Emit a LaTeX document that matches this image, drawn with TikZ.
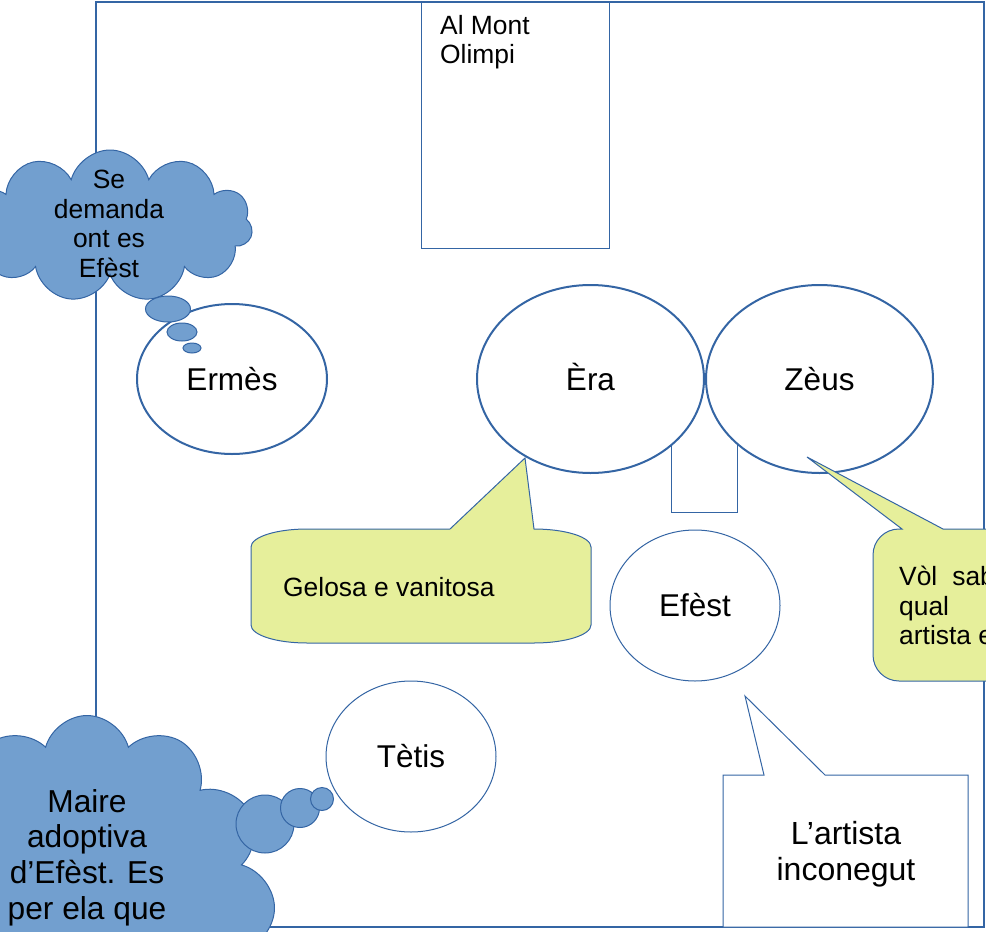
\documentclass[tikz,border=0pt]{standalone}
\usepackage{fontspec}
\setmainfont{Liberation Sans}
\usetikzlibrary{positioning}
\usetikzlibrary{shapes.geometric}
\usetikzlibrary{shapes.symbols}
\definecolor{lineblue}{HTML}{3465A4}
\definecolor{cloudblue}{HTML}{729FCF}
\definecolor{noteyellow}{HTML}{E6EF9B}
\newcommand{\godfont}{\fontsize{31.5}{36}\selectfont}
\newcommand{\notefont}{\fontsize{26.4}{29.5}\selectfont}
\newcommand{\mairefont}{\fontsize{31.7}{35.7}\selectfont}
\newcommand{\artfont}{\fontsize{32}{36}\selectfont}
\tikzset{
	god/.style={ellipse, draw=lineblue, fill=white, inner sep=0pt, text height=22.5pt, text depth=0pt, font=\godfont},
	thought/.style={cloud, cloud ignores aspect, draw=lineblue, fill=cloudblue, line width=1pt, cloud puffs=11, inner sep=0pt},
	bubble/.style={ellipse, draw=lineblue, fill=cloudblue, line width=1pt, inner sep=0pt},
	note/.style={draw=lineblue, line width=1pt, fill=noteyellow},
	txt/.style={inner sep=0pt, align=center}
}

\begin{document}
\begin{tikzpicture}[x=1pt,y=-1pt]
	\useasboundingbox (0,0) rectangle (986,932);
	\clip (0,0) rectangle (986,932);
	
	\draw[lineblue, line width=1.2pt] (96,2) rectangle (984,927);
	\node[draw=lineblue, line width=1pt, anchor=north west, inner sep=0pt, minimum width=188pt, minimum height=247pt](olimp) at (421,1){};
	\node[txt, align=left, anchor=north west, font=\notefont](olimp_txt) at (440,15){Al Mont\\Olimpi};
	
	\draw[lineblue, line width=1pt] (671,379) rectangle (737,512);
	
	\node[god, line width=2pt, minimum width=190pt, minimum height=150pt](ermes) at (232,379){Ermès};
	\node[god, line width=2pt, minimum width=227pt, minimum height=188pt](era) at (590.5,379){Èra};
	\node[god, line width=2pt, minimum width=227pt, minimum height=188pt, right=0pt of era](zeus){Zèus};
	\node[god, line width=1pt, minimum width=170pt, minimum height=151pt](efest) at (695,605.5){Efèst};
	\node[god, line width=1pt, minimum width=170pt, minimum height=151pt](tetis) at (411,756.5){Tètis};
	
	% bocadillos
	\draw[note] (307,529) -- (450,529) -- (525,458) -- (534,529)
		.. controls (565.5,529) and (591,537) .. (591,547) -- (591,625)
		.. controls (591,635) and (565.5,643) .. (534,643) -- (307,643)
		.. controls (276,643) and (251,635) .. (251,625) -- (251,547)
		.. controls (251,537) and (276,529) .. (307,529) -- cycle;
	\node[txt, anchor=west, font=\notefont](era_note) at (283,587){Gelosa e vanitosa};
	
	\draw[note] (899,529) -- (902,529) -- (807,457) -- (943,529) -- (1010,529) -- (1010,681) -- (899,681)
		.. controls (884.6,681) and (873,669.4) .. (873,655) -- (873,555)
		.. controls (873,540.6) and (884.6,529) .. (899,529) -- cycle;
	\node[txt, align=left, anchor=north west, font=\notefont](zeus_note) at (899,566){Vòl\hspace{15pt}sab\\qual\\artista e};
	
	\draw[lineblue, line width=1pt, fill=white] (723,775) -- (764,775) -- (745,696) -- (825,775) -- (968,775) -- (968,927) -- (723,927) -- cycle;
	\node[txt, font=\artfont](efest_note) at (846,854){L’artista\\inconegut};
	
	% pensaments
	\node[thought, minimum width=285pt, minimum height=152pt](ermes_cloud) at (110,226){};
	\node[txt, font=\notefont](ermes_txt) at (109,224){Se\\demanda\\ont es\\Efèst};
	\node[bubble, minimum width=45pt, minimum height=26pt](ermes_b1) at (168,309){};
	\node[bubble, minimum width=30pt, minimum height=18pt](ermes_b2) at (182,332){};
	\node[bubble, minimum width=18pt, minimum height=10pt](ermes_b3) at (192,348){};
	
	\node[thought, cloud puffs=12, minimum width=375pt, minimum height=385pt](tetis_cloud) at (87,908){};
	\node[txt, anchor=north, font=\mairefont](tetis_txt) at (87,789){Maire\\adoptiva\\d’Efèst. Es\\per ela que};
	\node[bubble, minimum width=58pt, minimum height=58pt](tetis_b1) at (265,824){};
	\node[bubble, minimum width=39pt, minimum height=39pt](tetis_b2) at (300,808){};
	\node[bubble, minimum width=23pt, minimum height=23pt](tetis_b3) at (322,799){};
\end{tikzpicture}
\end{document}
